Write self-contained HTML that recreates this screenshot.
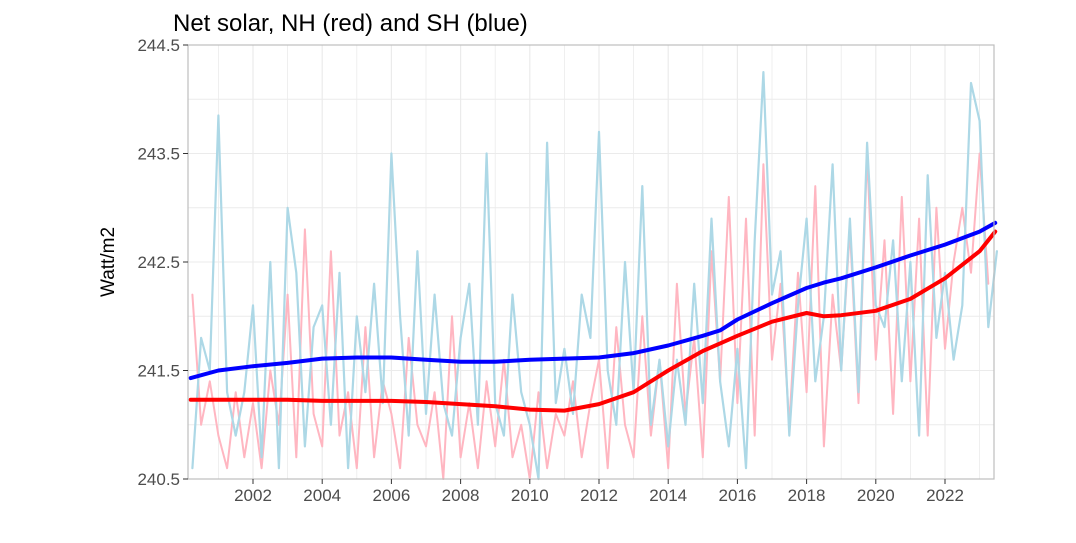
<!DOCTYPE html>
<html><head><meta charset="utf-8"><style>
body{margin:0;background:#fff;}
svg text{font-family:"Liberation Sans",Arial,sans-serif;}
</style></head><body>
<svg id="chart" width="1076" height="538">
<text x="173" y="31" font-size="24" fill="#000">Net solar, NH (red) and SH (blue)</text>
<text transform="translate(114,262) rotate(-90)" text-anchor="middle" font-size="19" fill="#000">Watt/m2</text>
<g id="grid"></g><g id="series"></g><g id="axes"></g>
</svg>
<script>
const yTicks=[240.5,241.5,242.5,243.5,244.5];
const xTicks=[2002,2004,2006,2008,2010,2012,2014,2016,2018,2020,2022];
const tStart=2000.25, tStep=0.25;
const shRaw=[240.6,241.8,241.5,243.85,241.3,240.9,241.3,242.1,240.7,242.5,240.6,243.0,242.4,240.8,241.9,242.1,241.0,242.4,240.6,242.0,241.3,242.3,241.2,243.5,242.0,240.9,242.6,241.1,242.2,241.2,240.9,241.8,242.3,241.0,243.5,241.2,240.9,242.2,241.3,241.0,240.5,243.6,241.2,241.7,241.1,242.2,241.8,243.7,241.5,241.0,242.5,241.3,243.2,241.0,241.6,240.8,241.6,241.0,242.3,241.2,242.9,241.4,240.8,241.7,240.6,242.7,244.25,242.2,242.6,240.9,242.1,242.9,241.4,242.0,243.4,241.5,242.9,241.3,243.6,242.1,241.9,242.7,241.4,242.5,240.9,243.3,241.8,242.4,241.6,242.1,244.15,243.8,241.9,242.6];
const nhRaw=[242.2,241.0,241.4,240.9,240.6,241.3,240.7,241.2,240.6,241.5,241.0,242.2,240.7,242.8,241.1,240.8,242.6,240.9,241.3,240.6,241.9,240.7,241.4,241.1,240.6,241.8,241.0,240.8,241.3,240.5,242.0,240.7,241.2,240.6,241.4,240.8,241.6,240.7,241.0,240.5,241.3,240.6,241.1,240.9,241.4,240.7,241.2,241.6,240.6,241.9,241.0,240.7,242.0,240.9,241.6,240.6,242.3,241.1,241.8,240.7,242.6,241.4,243.1,241.2,242.9,240.9,243.4,241.6,242.3,241.0,242.4,241.3,243.2,240.8,242.2,241.5,242.8,241.2,243.5,241.6,242.7,241.1,243.1,241.4,242.9,240.9,243.0,241.7,242.5,243.0,242.4,243.5,242.3];
const smoothT=[2000.2,2001,2002,2003,2004,2005,2006,2007,2008,2009,2010,2011,2012,2013,2014,2015,2015.5,2016,2017,2018,2018.5,2019,2020,2021,2022,2023,2023.45];
const shSmooth=[241.43,241.5,241.54,241.57,241.61,241.62,241.62,241.6,241.58,241.58,241.6,241.61,241.62,241.66,241.73,241.82,241.87,241.97,242.12,242.26,242.31,242.35,242.45,242.56,242.66,242.78,242.86];
const nhSmooth=[241.23,241.23,241.23,241.23,241.22,241.22,241.22,241.21,241.19,241.17,241.14,241.13,241.19,241.3,241.5,241.68,241.75,241.82,241.95,242.03,242.0,242.01,242.05,242.16,242.35,242.6,242.78];

const L=188,R=994,T=45,B=479;
const x=t=>253+(t-2002)*34.6;
const y=v=>B-(v-240.5)*(B-T)/4;
const NS="http://www.w3.org/2000/svg";
function mk(tag,attrs,parent){const e=document.createElementNS(NS,tag);for(const k in attrs)e.setAttribute(k,attrs[k]);parent.appendChild(e);return e;}
const grid=document.getElementById('grid'),series=document.getElementById('series'),axes=document.getElementById('axes');
mk('rect',{x:L,y:T,width:R-L,height:B-T,fill:'#fff'},grid);
for(let yr=2001;yr<=2023;yr++){const l=mk('line',{x1:x(yr),x2:x(yr),y1:T,y2:B,stroke:'#ebebeb','stroke-width':yr%2?0.8:1.2},grid);

}
for(let v=240.5;v<=244.51;v+=0.5){const l=mk('line',{x1:L,x2:R,y1:y(v),y2:y(v),stroke:'#ebebeb','stroke-width':1},grid);

}
function path(ts,vs,color,w,name){const d=vs.map((v,i)=>(i?'L':'M')+x(ts[i]).toFixed(1)+','+y(v).toFixed(1)).join('');
const p=mk('path',{d:d,fill:'none',stroke:color,'stroke-width':w,'stroke-linejoin':'round','stroke-linecap':'round'},series);

}
const tsRaw=shRaw.map((_,i)=>tStart+i*tStep);
const tsNh=nhRaw.map((_,i)=>tStart+i*tStep);
path(tsNh,nhRaw,'#ffb6c1',2,'nh-monthly-line');
path(tsRaw,shRaw,'#add8e6',2.2,'sh-monthly-line');
path(smoothT,shSmooth,'#0000ff',4,'sh-trend-line');
path(smoothT,nhSmooth,'#ff0000',4,'nh-trend-line');
const border=mk('rect',{x:L,y:T,width:R-L,height:B-T,fill:'none',stroke:'#bdbdbd','stroke-width':1.2},axes);


yTicks.forEach(v=>{mk('line',{x1:L-5,x2:L,y1:y(v),y2:y(v),stroke:'#333'},axes);
const t=mk('text',{x:L-8,y:y(v)+6,'text-anchor':'end','font-size':17,fill:'#4d4d4d'},axes);t.textContent=v.toFixed(1);

});
xTicks.forEach(v=>{mk('line',{x1:x(v),x2:x(v),y1:B,y2:B+5,stroke:'#333'},axes);
const t=mk('text',{x:x(v),y:B+22,'text-anchor':'middle','font-size':17,fill:'#4d4d4d'},axes);t.textContent=v;

});
</script>
</body></html>
